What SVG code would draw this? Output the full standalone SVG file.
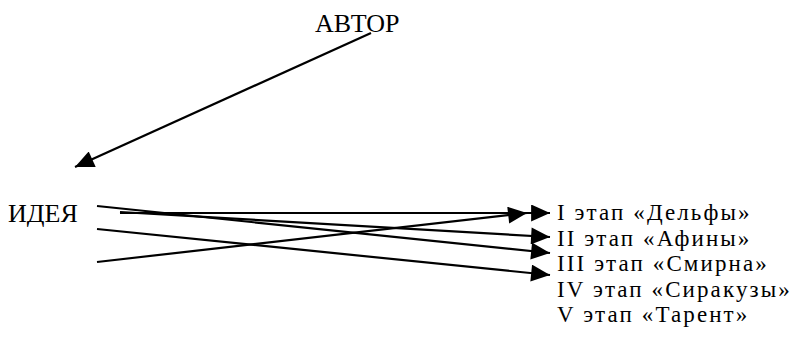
<svg xmlns="http://www.w3.org/2000/svg" width="794" height="348" viewBox="0 0 794 348">
<defs>
<style>
text{font-family:"Liberation Serif","Times New Roman",serif;fill:#000}
.big{font-size:26px}
.lbl{font-size:23px;letter-spacing:2.1px}
.c line{stroke:#000;stroke-width:2.2;fill:none}
</style>
<marker id="ah" viewBox="0 0 20 18" refX="20" refY="9" markerWidth="20" markerHeight="17" markerUnits="userSpaceOnUse" orient="auto">
<path d="M0,0 L20,9 L0,18 Z" fill="#000"/>
</marker>
</defs>
<rect width="794" height="348" fill="#fff"/>
<g id="avtor"><text class="big" x="315" y="32">АВТОР</text></g>
<g id="ideya"><text class="big" x="8" y="222">ИДЕЯ</text></g>
<g id="stage1"><text class="lbl" x="557" y="220">I этап «Дельфы»</text></g>
<g id="stage2"><text class="lbl" x="557" y="246">II этап «Афины»</text></g>
<g id="stage3"><text class="lbl" x="557" y="271">III этап «Смирна»</text></g>
<g id="stage4"><text class="lbl" x="557" y="297">IV этап «Сиракузы»</text></g>
<g id="stage5"><text class="lbl" x="557" y="322">V этап «Тарент»</text></g>
<g id="connectors" class="c">
<line x1="371" y1="33" x2="75" y2="167" marker-end="url(#ah)"/>
<line x1="120" y1="213" x2="550" y2="213" marker-end="url(#ah)"/>
<line x1="97" y1="262" x2="527" y2="213" marker-end="url(#ah)"/>
<line x1="120" y1="212" x2="550" y2="237" marker-end="url(#ah)"/>
<line x1="97" y1="206" x2="550" y2="253" marker-end="url(#ah)"/>
<line x1="97" y1="229" x2="550" y2="275" marker-end="url(#ah)"/>
</g>
</svg>
